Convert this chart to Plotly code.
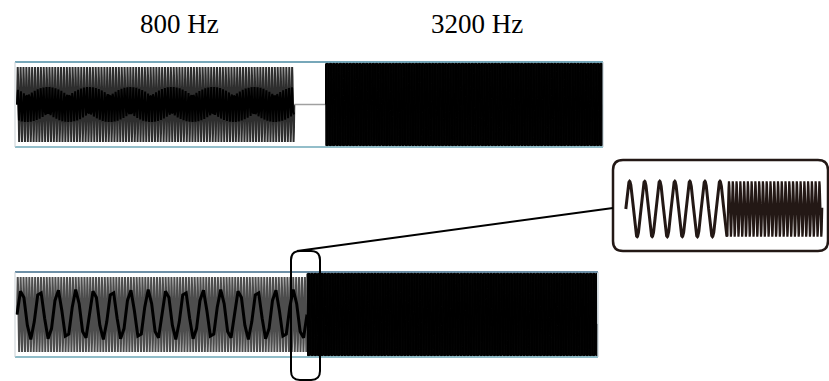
import numpy as np
import plotly.graph_objects as go

# ---- data -------------------------------------------------------------
tone_labels = ["800 Hz", "3200 Hz"]
tone_freqs = [800.0, 3200.0]          # Hz
top_durations = [0.12, 0.0135, 0.12]   # s : tone 1, silence, tone 2
bottom_durations = [0.125, 0.125]      # s : tone 1, tone 2 (joined)
tone_amps = [0.9, 1.0]                 # relative amplitude of each tone
inset_durations = [0.0084, 0.0079]     # s : zoomed view of the junction
sample_rate = 44100.0                  # Hz
display_rates = [2344.0, 672.0]        # coarse display sampling (top, bottom)
display_amps = [0.42, 0.6]

W, H = 829, 381
px = lambda x: x / W
py = lambda y: 1 - y / H

def tone(freq, t0, dur, amp, fs, phase=0.0):
    n = int(round(dur * fs))
    t = t0 + np.arange(n + 1) / fs
    return t, amp * np.sin(2 * np.pi * freq * (t - t0) + phase)

fig = go.Figure()

# ---- top panel: 800 Hz, silence, 3200 Hz ------------------------------
t1, y1 = tone(tone_freqs[0], 0.0, top_durations[0], tone_amps[0], sample_rate)
fig.add_trace(go.Scatter(x=t1, y=y1, mode="lines", line=dict(color="#2e2e2e", width=2),
                         xaxis="x", yaxis="y", hoverinfo="skip"))
td, yd = tone(tone_freqs[0], 0.0, top_durations[0], display_amps[0], display_rates[0])
fig.add_trace(go.Scatter(x=td, y=yd, mode="lines", line=dict(color="black", width=2),
                         xaxis="x", yaxis="y", hoverinfo="skip"))
fig.add_trace(go.Scatter(x=[top_durations[0], top_durations[0] + top_durations[1]], y=[0, 0],
                         mode="lines", line=dict(color="#a0a0a0", width=1.5),
                         xaxis="x", yaxis="y", hoverinfo="skip"))
t2, y2 = tone(tone_freqs[1], top_durations[0] + top_durations[1], top_durations[2],
              tone_amps[1], sample_rate)
fig.add_trace(go.Scatter(x=t2, y=y2, mode="lines", line=dict(color="black", width=1),
                         xaxis="x", yaxis="y", hoverinfo="skip"))

# ---- bottom panel: 800 Hz then 3200 Hz --------------------------------
b1, z1 = tone(tone_freqs[0], 0.0, bottom_durations[0], tone_amps[0], sample_rate)
fig.add_trace(go.Scatter(x=b1, y=z1, mode="lines", line=dict(color="#4d4d4d", width=2),
                         xaxis="x2", yaxis="y2", hoverinfo="skip"))
bd, zd = tone(tone_freqs[0], 0.0, bottom_durations[0], display_amps[1], display_rates[1])
fig.add_trace(go.Scatter(x=bd, y=zd, mode="lines", line=dict(color="black", width=3),
                         xaxis="x2", yaxis="y2", hoverinfo="skip"))
b2, z2 = tone(tone_freqs[1], bottom_durations[0], bottom_durations[1], tone_amps[1], sample_rate)
fig.add_trace(go.Scatter(x=b2, y=z2, mode="lines", line=dict(color="black", width=1),
                         xaxis="x2", yaxis="y2", hoverinfo="skip"))

# ---- inset: zoom on the junction --------------------------------------
i1, w1 = tone(tone_freqs[0], 0.0, inset_durations[0], 1.0, sample_rate * 4)
ph = 2 * np.pi * tone_freqs[0] * inset_durations[0]
i2, w2 = tone(tone_freqs[1], inset_durations[0], inset_durations[1], 1.0, sample_rate * 4, ph)
fig.add_trace(go.Scatter(x=i1, y=w1, mode="lines", line=dict(color="#231815", width=3),
                         xaxis="x3", yaxis="y3", hoverinfo="skip"))
fig.add_trace(go.Scatter(x=i2, y=w2, mode="lines", line=dict(color="#231815", width=2.2),
                         xaxis="x3", yaxis="y3", hoverinfo="skip"))

# ---- axes ---------------------------------------------------------------
ax = dict(showgrid=False, zeroline=False, showticklabels=False, ticks="", showline=False)
top_total = sum(top_durations)
bot_total = sum(bottom_durations)
fig.update_layout(
    width=W, height=H, margin=dict(l=0, r=0, t=0, b=0),
    paper_bgcolor="white", plot_bgcolor="rgba(0,0,0,0)", showlegend=False,
    xaxis=dict(ax, domain=[px(15), px(603)], range=[-0.00086, top_total + 0.0001]),
    yaxis=dict(ax, domain=[py(147), py(62)], range=[-1.02, 1.02]),
    xaxis2=dict(ax, domain=[px(15), px(598)], range=[-0.00086, bot_total + 0.0004]),
    yaxis2=dict(ax, domain=[py(357), py(272)], range=[-1.02, 1.02]),
    xaxis3=dict(ax, domain=[px(624), px(824)], range=[-0.00015, sum(inset_durations) + 0.00015]),
    yaxis3=dict(ax, domain=[py(240), py(178)], range=[-1.12, 1.12]),
)

shapes = []
for xr, yr, top_c, bot_c in [("x domain", "y domain", "#4a8aa2", "#6fa9b8"),
                             ("x2 domain", "y2 domain", "#3c6a88", "#6aa6b6")]:
    shapes.append(dict(type="line", xref=xr, yref=yr, x0=0, x1=1, y0=1, y1=1,
                       line=dict(color=top_c, width=1.5)))
    shapes.append(dict(type="line", xref=xr, yref=yr, x0=0, x1=1, y0=0, y1=0,
                       line=dict(color=bot_c, width=1.5)))
    shapes.append(dict(type="line", xref=xr, yref=yr, x0=0, x1=0, y0=0, y1=1,
                       line=dict(color="#c8cfd4", width=1)))
    shapes.append(dict(type="line", xref=xr, yref=yr, x0=1, x1=1, y0=0, y1=1,
                       line=dict(color="#b8c8d0", width=1)))

def rrect(x0, y0, x1, y1, r):
    X = lambda v: f"{px(v):.5f}"
    Y = lambda v: f"{py(v):.5f}"
    return (f"M {X(x0 + r)},{Y(y0)} L {X(x1 - r)},{Y(y0)} Q {X(x1)},{Y(y0)} {X(x1)},{Y(y0 + r)} "
            f"L {X(x1)},{Y(y1 - r)} Q {X(x1)},{Y(y1)} {X(x1 - r)},{Y(y1)} "
            f"L {X(x0 + r)},{Y(y1)} Q {X(x0)},{Y(y1)} {X(x0)},{Y(y1 - r)} "
            f"L {X(x0)},{Y(y0 + r)} Q {X(x0)},{Y(y0)} {X(x0 + r)},{Y(y0)} Z")

shapes.append(dict(type="path", xref="paper", yref="paper", path=rrect(291, 251, 320, 380, 9),
                   line=dict(color="black", width=2)))
shapes.append(dict(type="path", xref="paper", yref="paper", path=rrect(613, 160, 828, 251, 10),
                   line=dict(color="#231815", width=2.5), fillcolor="rgba(0,0,0,0)"))
shapes.append(dict(type="line", xref="paper", yref="paper", x0=px(297), y0=py(251),
                   x1=px(613), y1=py(208), line=dict(color="black", width=2)))
fig.update_layout(shapes=shapes)

for lab, xc in zip(tone_labels, [179, 477]):
    fig.add_annotation(x=px(xc), y=py(24), xref="paper", yref="paper", text=lab,
                       showarrow=False, xanchor="center", yanchor="middle",
                       font=dict(family="Liberation Serif, Times New Roman, serif", size=27,
                                 color="black"))

fig.write_html("out.html")
